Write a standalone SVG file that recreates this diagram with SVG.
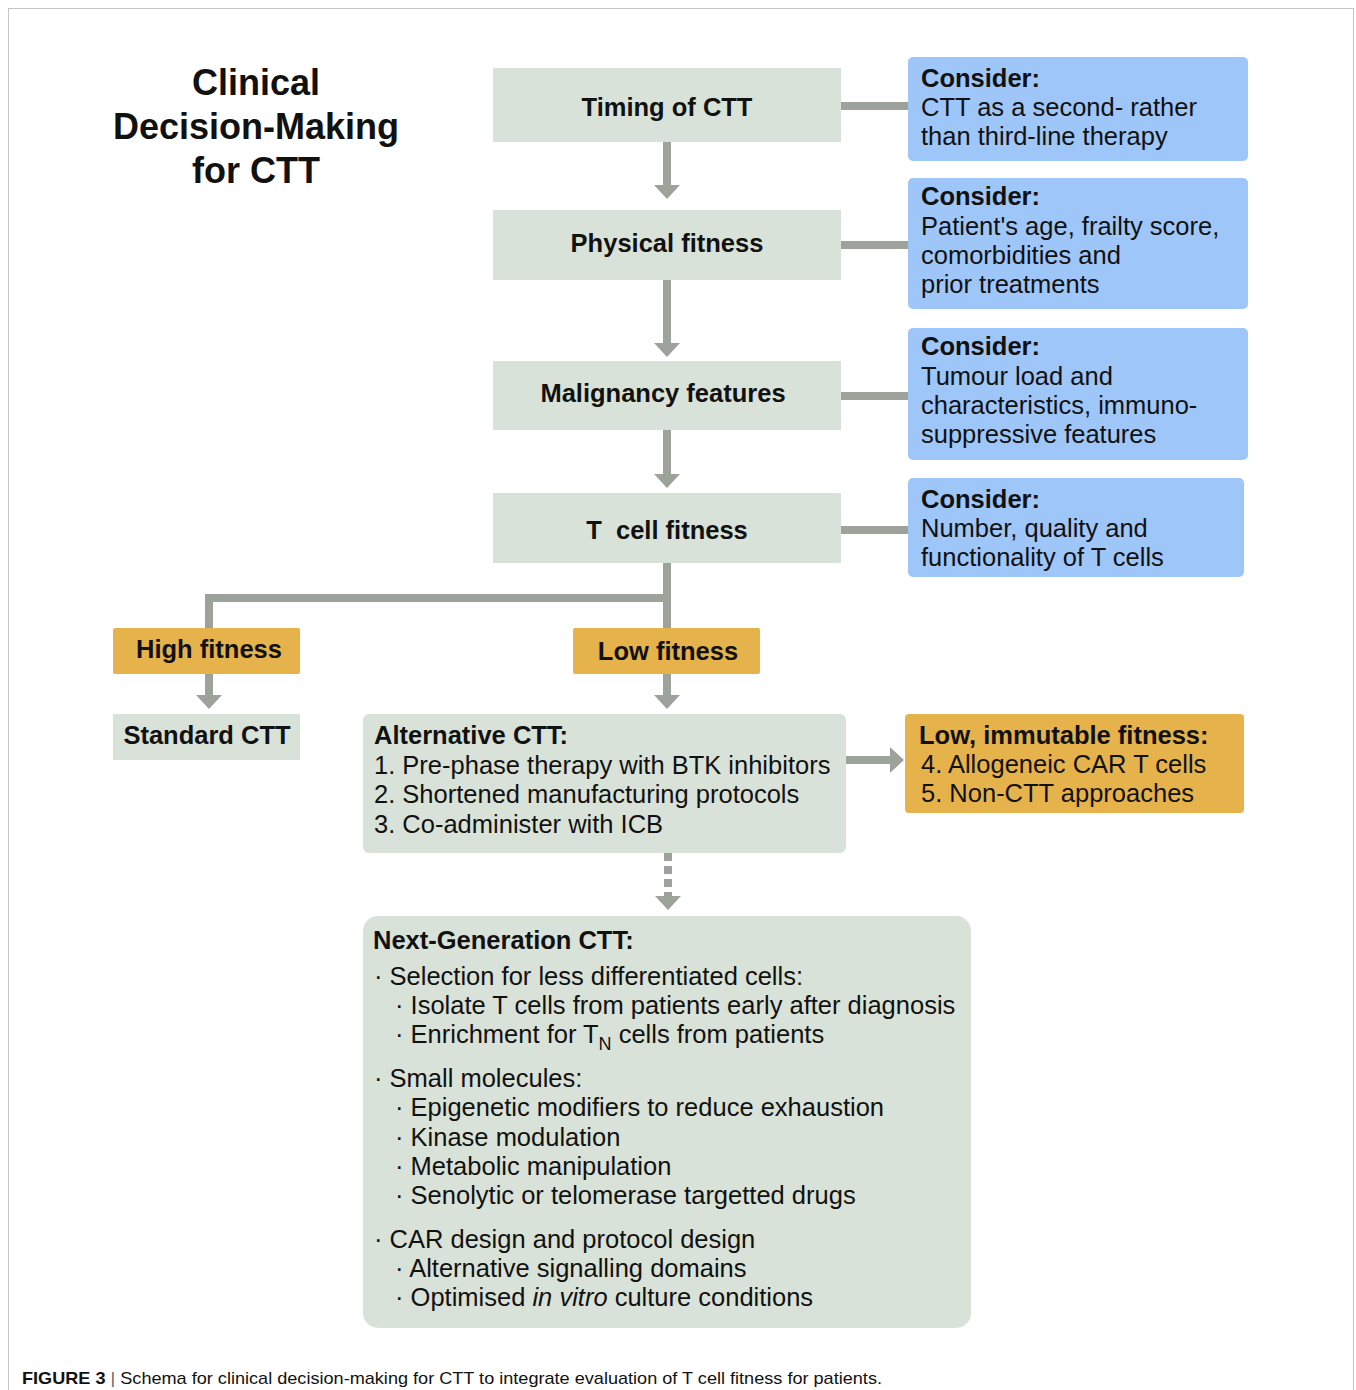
<svg xmlns="http://www.w3.org/2000/svg" width="1356" height="1390" viewBox="0 0 1356 1390">
<style>
text{font-family:"Liberation Sans",Arial,sans-serif;fill:#111;}
.t{font-size:25.5px;}
.b{font-weight:bold;}
.g{fill:#d9e2d8;}
.bl{fill:#9fc6f9;}
.or{fill:#e6b24b;}
.ln{stroke:#9da29b;stroke-width:8;fill:none;}
.ah{fill:#9da29b;}
</style>
<rect x="8.5" y="8.5" width="1345" height="1400" fill="#fff" stroke="#c4c4c4" stroke-width="1"/>

<g id="title">
<text x="256" y="95" text-anchor="middle" class="b" font-size="36">Clinical</text>
<text x="256" y="139" text-anchor="middle" class="b" font-size="36">Decision-Making</text>
<text x="256" y="183" text-anchor="middle" class="b" font-size="36">for CTT</text>
</g>

<g id="connectors">
<line class="ln" x1="841" y1="106" x2="908" y2="106"/>
<line class="ln" x1="841" y1="245" x2="908" y2="245"/>
<line class="ln" x1="841" y1="396" x2="908" y2="396"/>
<line class="ln" x1="841" y1="530" x2="908" y2="530"/>
<path class="ln" d="M667,142 V186"/><path class="ah" d="M654,185 H680 L667,199 Z"/>
<path class="ln" d="M667,280 V344"/><path class="ah" d="M654,343 H680 L667,357 Z"/>
<path class="ln" d="M667,430 V475"/><path class="ah" d="M654,474 H680 L667,488 Z"/>
<path class="ln" d="M667,563 V628 M667,598 H209 V628" stroke-linejoin="miter"/>
<path class="ln" d="M209,674 V696"/><path class="ah" d="M196,695 H222 L209,709 Z"/>
<path class="ln" d="M667,674 V696"/><path class="ah" d="M654,695 H680 L667,709 Z"/>
<path class="ln" d="M846,760 H891"/><path class="ah" d="M890,747 V773 L904,760 Z"/>
<path class="ln" d="M668,853 V896" stroke-dasharray="8,5"/><path class="ah" d="M655,896 H681 L668,910 Z"/>
</g>

<g id="timing">
<rect class="g" x="493" y="68" width="348" height="74"/>
<text class="t b" x="667" y="116" text-anchor="middle">Timing of CTT</text>
</g>
<g id="consider1">
<rect class="bl" x="908" y="57" width="340" height="104" rx="5"/>
<text class="t b" x="921" y="87">Consider:</text>
<text class="t" x="921" y="116">CTT as a second- rather</text>
<text class="t" x="921" y="145">than third-line therapy</text>
</g>

<g id="physical">
<rect class="g" x="493" y="210" width="348" height="70"/>
<text class="t b" x="667" y="252" text-anchor="middle">Physical fitness</text>
</g>
<g id="consider2">
<rect class="bl" x="908" y="178" width="340" height="131" rx="5"/>
<text class="t b" x="921" y="205">Consider:</text>
<text class="t" x="921" y="235">Patient's age, frailty score,</text>
<text class="t" x="921" y="264">comorbidities and</text>
<text class="t" x="921" y="293">prior treatments</text>
</g>

<g id="malignancy">
<rect class="g" x="493" y="361" width="348" height="69"/>
<text class="t b" x="663" y="402" text-anchor="middle">Malignancy features</text>
</g>
<g id="consider3">
<rect class="bl" x="908" y="328" width="340" height="132" rx="5"/>
<text class="t b" x="921" y="355">Consider:</text>
<text class="t" x="921" y="385">Tumour load and</text>
<text class="t" x="921" y="414">characteristics, immuno-</text>
<text class="t" x="921" y="443">suppressive features</text>
</g>

<g id="tcell">
<rect class="g" x="493" y="493" width="348" height="70"/>
<text class="t b" x="667" y="539" text-anchor="middle" xml:space="preserve">T  cell fitness</text>
</g>
<g id="consider4">
<rect class="bl" x="908" y="478" width="336" height="99" rx="5"/>
<text class="t b" x="921" y="508">Consider:</text>
<text class="t" x="921" y="537">Number, quality and</text>
<text class="t" x="921" y="566">functionality of T cells</text>
</g>

<g id="high">
<rect class="or" x="113" y="628" width="187" height="46" rx="2"/>
<text class="t b" x="209" y="658" text-anchor="middle">High fitness</text>
</g>
<g id="low">
<rect class="or" x="573" y="628" width="187" height="46" rx="2"/>
<text class="t b" x="668" y="660" text-anchor="middle">Low fitness</text>
</g>
<g id="standard">
<rect class="g" x="113" y="714" width="187" height="46"/>
<text class="t b" x="207" y="744" text-anchor="middle">Standard CTT</text>
</g>
<g id="alternative">
<rect class="g" x="363" y="714" width="483" height="139" rx="6"/>
<text class="t b" x="374" y="744">Alternative CTT:</text>
<text class="t" x="374" y="774">1. Pre-phase therapy with BTK inhibitors</text>
<text class="t" x="374" y="803">2. Shortened manufacturing protocols</text>
<text class="t" x="374" y="833">3. Co-administer with ICB</text>
</g>
<g id="immutable">
<rect class="or" x="905" y="714" width="339" height="99" rx="4"/>
<text class="t b" x="919" y="744">Low, immutable fitness:</text>
<text class="t" x="921" y="773">4. Allogeneic CAR T cells</text>
<text class="t" x="921" y="802">5. Non-CTT approaches</text>
</g>

<g id="nextgen">
<rect class="g" x="363" y="916" width="608" height="412" rx="15"/>
<text class="t b" x="373" y="949">Next-Generation CTT:</text>
<text class="t" x="374" y="985">· Selection for less differentiated cells:</text>
<text class="t" x="395" y="1014">· Isolate T cells from patients early after diagnosis</text>
<text class="t" x="395" y="1043">· Enrichment for T<tspan font-size="18" dy="7">N</tspan><tspan dy="-7"> cells from patients</tspan></text>
<text class="t" x="374" y="1087">· Small molecules:</text>
<text class="t" x="395" y="1116">· Epigenetic modifiers to reduce exhaustion</text>
<text class="t" x="395" y="1146">· Kinase modulation</text>
<text class="t" x="395" y="1175">· Metabolic manipulation</text>
<text class="t" x="395" y="1204">· Senolytic or telomerase targetted drugs</text>
<text class="t" x="374" y="1248">· CAR design and protocol design</text>
<text class="t" x="395" y="1277">· Alternative signalling domains</text>
<text class="t" x="395" y="1306">· Optimised <tspan font-style="italic">in vitro</tspan> culture conditions</text>
</g>

<g id="caption">
<text x="22" y="1384" font-size="17" textLength="860" lengthAdjust="spacingAndGlyphs"><tspan font-weight="bold">FIGURE 3</tspan><tspan fill="#666"> | </tspan>Schema for clinical decision-making for CTT to integrate evaluation of T cell fitness for patients.</text>
</g>
</svg>
